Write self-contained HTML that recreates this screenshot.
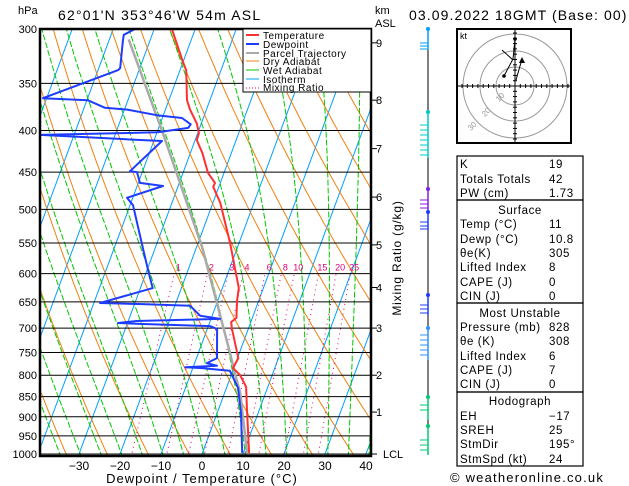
<!DOCTYPE html>
<html><head><meta charset="utf-8"><style>
body{margin:0;background:#fff}
svg{display:block}
text{font-family:"Liberation Sans",sans-serif;fill:#000}
</style></head><body>
<svg id="chart" width="629" height="486" viewBox="0 0 629 486" xmlns="http://www.w3.org/2000/svg">
<defs><clipPath id="pc"><rect x="40" y="29" width="331" height="427"/></clipPath></defs>
<rect x="0" y="0" width="629" height="486" fill="#fff"/>
<g id="grid" clip-path="url(#pc)"></g>
<g id="series" clip-path="url(#pc)"></g>
<g id="axes"></g>
<text x="18" y="14" font-size="11">hPa</text>
<text x="58" y="20" font-size="14" letter-spacing="1.2">62°01'N  353°46'W  54m  ASL</text>
<text x="375" y="14" font-size="11">km</text>
<text x="375" y="27" font-size="11">ASL</text>
<text x="409" y="20" font-size="14" letter-spacing="1.1">03.09.2022  18GMT  (Base: 00)</text>
<text x="202" y="483" font-size="13" letter-spacing="1" text-anchor="middle">Dewpoint  /  Temperature  (°C)</text>
<text transform="translate(401,258) rotate(-90)" font-size="12" letter-spacing="0.8" text-anchor="middle">Mixing  Ratio  (g/kg)</text>
<g>
<rect x="243" y="29" width="128" height="63" fill="#fff" stroke="#000" stroke-width="1"/>
<line x1="246" y1="35" x2="259" y2="35" stroke="#ff3030" stroke-width="2"/>
<text x="263" y="39" font-size="10" letter-spacing="0.5">Temperature</text>
<line x1="246" y1="44" x2="259" y2="44" stroke="#1e3cff" stroke-width="2"/>
<text x="263" y="48" font-size="10" letter-spacing="0.5">Dewpoint</text>
<line x1="246" y1="53" x2="259" y2="53" stroke="#aaa" stroke-width="2"/>
<text x="263" y="57" font-size="10" letter-spacing="0.5">Parcel  Trajectory</text>
<line x1="246" y1="61" x2="259" y2="61" stroke="#f08010" stroke-width="1"/>
<text x="263" y="65" font-size="10" letter-spacing="0.5">Dry  Adiabat</text>
<line x1="246" y1="70" x2="259" y2="70" stroke="#00c800" stroke-width="1"/>
<text x="263" y="74" font-size="10" letter-spacing="0.5">Wet  Adiabat</text>
<line x1="246" y1="79" x2="259" y2="79" stroke="#00a0ff" stroke-width="1"/>
<text x="263" y="83" font-size="10" letter-spacing="0.5">Isotherm</text>
<line x1="246" y1="88" x2="259" y2="88" stroke="#e0007a" stroke-width="1" stroke-dasharray="1,2"/>
<text x="263" y="91" font-size="10" letter-spacing="0.5">Mixing  Ratio</text>
</g>
<g id="winds"></g>
<g id="hodo"></g>
<g id="table"></g>
<text x="450" y="482" font-size="13" letter-spacing="1.2">© weatheronline.co.uk</text>
</svg>
<script>
// ---- data ----
const pressureLevels = [300,350,400,450,500,550,600,650,700,750,800,850,900,950,1000];
const tempTicks = [-30,-20,-10,0,10,20,30,40];
const kmLabels = ["9","8","7","6","5","4","3","2","1","LCL"];
const kmPressures = [312,367,421,483,553,624,700,800,888,1000];
const mixRatios = [1,2,3,4,6,8,10,15,20,25];
const tempP = [300,329.5,337,367,377,392,403,411,426,451,464,469,491,550,625,647,680,688,700,762,784,800,827,883,997];
const tempT = [-45.7,-40.0,-38.5,-35.6,-34.0,-31.1,-29.7,-29.6,-27.1,-23.9,-21.3,-21.4,-18.2,-12.2,-6.0,-5.3,-3.9,-4.8,-4.1,0.2,-0.2,2.2,4.7,7.0,11.4];
const dewP = [300,305,310,335,337,365,367,375,377,383,386,393,397,402,405,407,410,412,449,450,464,468,484,494,558,599,625,652,654,657,676,682,686,690,692,696,702,762,773,779,782,784,790,829,890,997];
const dewT = [-54.7,-56.9,-56.6,-54.8,-55.1,-70.9,-59.8,-54.9,-49.3,-41.6,-35.2,-32.5,-32.8,-39.8,-68.3,-59.0,-46.8,-38.0,-43.1,-41.3,-39.6,-33.7,-41.4,-39.3,-33.0,-29.3,-27.0,-38.5,-28.0,-16.3,-12.9,-7.8,-27.9,-32.3,-26.1,-9.6,-7.6,-5.0,-7.0,-4.3,-11.9,-7.8,-0.7,2.8,5.8,9.7];
const parcelP = [309,403,556,659,751,795,841,997];
const parcelT = [-55.3,-38.5,-18.7,-9.4,-2.3,0.7,3.8,10.9];
const tableRows = [["K","19"],["Totals  Totals","42"],["PW  (cm)","1.73"],["Surface",""],["Temp  (°C)","11"],["Dewp  (°C)","10.8"],["θe(K)","305"],["Lifted  Index","8"],["CAPE  (J)","0"],["CIN  (J)","0"],["Most  Unstable",""],["Pressure  (mb)","828"],["θe  (K)","308"],["Lifted  Index","6"],["CAPE  (J)","7"],["CIN  (J)","0"],["Hodograph",""],["EH","−17"],["SREH","25"],["StmDir","195°"],["StmSpd  (kt)","24"]];

// ---- axes functions ----
const NS="http://www.w3.org/2000/svg";
function yP(p){return 454-353*Math.log(1000/p);}
function xT(T,p){return 202+4.1*T+0.37*(454-yP(p));}
function mk(tag,attrs,parent){const e=document.createElementNS(NS,tag);for(const k in attrs)e.setAttribute(k,attrs[k]);parent.appendChild(e);return e;}
const grid=document.getElementById('grid'),series=document.getElementById('series'),axes=document.getElementById('axes');
function pathFrom(ps,fn){let d="";ps.forEach((p,i)=>{const [x,y]=fn(p);d+=(i?"L":"M")+x.toFixed(1)+","+y.toFixed(1);});return d;}
const pRange=[];for(let p=1010;p>=295;p-=5)pRange.push(p);

for(let T=-120;T<=40;T+=10){
  const e=mk('line',{x1:xT(T,1010),y1:yP(1010),x2:xT(T,295),y2:yP(295),stroke:'#00a0ff','stroke-width':1},grid);
  
  
}
for(let th=220;th<=500;th+=10){
  const e=mk('path',{d:pathFrom(pRange,p=>[xT(th*Math.pow(p/1000,0.2857)-273.15,p),yP(p)]),fill:'none',stroke:'#f08010','stroke-width':1},grid);
  
  
}
function moist(T0){const pts=[];let T=T0+273.15;for(let p=1010;p>=295;p-=5){pts.push([xT(T-273.15,p),yP(p)]);
 const es=6.112*Math.exp(17.67*(T-273.15)/(T-29.65));const rs=0.622*es/(p-es);
 const dTdp=(287*T+2.5e6*rs)/(1004+2.5e6*2.5e6*rs*0.622/(287*T*T))/p;T-=dTdp*5;}return pts;}
for(let T0=-44;T0<=41;T0+=5){
  const pts=moist(T0);let d="";pts.forEach((q,i)=>{d+=(i?"L":"M")+q[0].toFixed(1)+","+q[1].toFixed(1);});
  const e=mk('path',{d:d,fill:'none',stroke:'#00c800','stroke-width':1,'stroke-dasharray':'6,2'},grid);
  
  
}
function tdOfW(w,p){const e=w*p/(622+w);const l=Math.log(e/6.112);return 243.5*l/(17.67-l);}
mixRatios.forEach(w=>{
  const e=mk('line',{x1:xT(tdOfW(w,1010),1010),y1:yP(1010),x2:xT(tdOfW(w,600),600),y2:yP(600),stroke:'#e0007a','stroke-width':1,'stroke-dasharray':'1,4'},grid);
  
  
  const t=mk('text',{x:xT(tdOfW(w,600),600)+4,y:yP(600)-3,'font-size':9,'text-anchor':'middle',style:'fill:#e0007a'},axes);
  t.textContent=String(w);
  
  
});
pressureLevels.forEach(p=>{
  const e=mk('line',{x1:40,y1:yP(p),x2:371,y2:yP(p),stroke:'#000','stroke-width':1},grid);
  
  
  const t=mk('text',{x:37,y:yP(p)+4,'font-size':11,'text-anchor':'end'},axes);
  t.textContent=String(p);
  
  
});
function profile(P,T,color,w,name){
  const e=mk('path',{d:pathFrom(P.map((p,i)=>i),i=>[xT(T[i],P[i]),yP(P[i])]),fill:'none',stroke:color,'stroke-width':w,'stroke-linejoin':'round'},series);
  
  
}
profile(parcelP,parcelT,'#aaaaaa',2.5,'parcel-trajectory-line');
profile(dewP,dewT,'#1e3cff',2,'dewpoint-line');
profile(tempP,tempT,'#ff3030',2,'temperature-line');
const fr=mk('path',{d:'M40,29L40,456L371,456L371,29Z',fill:'none',stroke:'#000','stroke-width':2.5},axes);


tempTicks.forEach(T=>{
  const t=mk('text',{x:202+4.1*T,y:470,'font-size':12,'text-anchor':'middle'},axes);
  t.textContent=T<0?"−"+(-T):String(T);
  
  
});
kmLabels.forEach((k,i)=>{
  const y=Math.min(yP(kmPressures[i]),456);
  const l=mk('line',{x1:371,y1:y,x2:377,y2:y,stroke:'#000','stroke-width':1},axes);
  
  
  const t=mk('text',{x:k==="LCL"?383:376,y:y+4,'font-size':11},axes);
  t.textContent=k;
  
  
});
const winds=document.getElementById('winds');
const wl=mk('line',{x1:428,y1:29,x2:428,y2:455,stroke:'#000','stroke-width':1},winds);


const barbGroups=[[29,50,'#00a0ff',[43,46,49]],[112,158,'#00c8c8',[125,130,135,140,145,150,155]],[189,212,'#8020e0',[200,204,208]],[212,230,'#1e3cff',[222,226,229]],[295,315,'#1e3cff',[305,309,313]],[328,360,'#3090ff',[335,340,345,350,355]],[397,420,'#00c870',[405,410]],[426,455,'#00c870',[440,445,450]]];
barbGroups.forEach(g=>{
  const s=mk('line',{x1:428,y1:g[0],x2:428,y2:g[1],stroke:g[2],'stroke-width':1.5},winds);
  
  
  const c=mk('circle',{cx:428,cy:g[0],r:2,fill:g[2]},winds);
  
  
  g[3].forEach(y=>{
    const b=mk('line',{x1:420,y1:y,x2:428,y2:y,stroke:g[2],'stroke-width':1},winds);
    
    
  });
});
const hodo=document.getElementById('hodo');
const hb=mk('rect',{x:457,y:29,width:114,height:114,fill:'#fff',stroke:'#000','stroke-width':2},hodo);


[19,35,52].forEach(r=>{
  const c=mk('circle',{cx:515,cy:86,r:r,fill:'none',stroke:'#999','stroke-width':1},hodo);
  
  
});
const ax1=mk('line',{x1:458,y1:86,x2:570,y2:86,stroke:'#000'},hodo);
const ax2=mk('line',{x1:515,y1:30,x2:515,y2:142,stroke:'#000'},hodo);
for(let k=-10;k<=10;k++){if(!k)continue;
  const t1=mk('line',{x1:515+k*5.3,y1:84,x2:515+k*5.3,y2:88,stroke:'#000'},hodo);
  const t2=mk('line',{x1:513,y1:86+k*5.3,x2:517,y2:86+k*5.3,stroke:'#000'},hodo);}
const ht=mk('text',{x:460,y:39,'font-size':9},hodo);ht.textContent="kt";
const hl=mk('path',{d:'M515,39L513,59L504,76M502,50L513,60M516,80L522,59',fill:'none',stroke:'#000','stroke-width':1},hodo);

[[515,39],[504,76]].forEach(q=>{const c=mk('circle',{cx:q[0],cy:q[1],r:1.8,fill:'#000'},hodo);});
const ar=mk('path',{d:'M522,57L519,63L525,63Z',fill:'#000'},hodo);
[["10",502,99],["20",488,114],["30",474,128]].forEach(q=>{const t=mk('text',{transform:'translate('+q[1]+','+q[2]+') rotate(-45)','font-size':8,'text-anchor':'middle',style:'fill:#999'},hodo);t.textContent=q[0];});
const table=document.getElementById('table');
[[156,200],[200,303],[303,392],[392,466]].forEach(b=>{
  const r=mk('rect',{x:457,y:b[0],width:126,height:b[1]-b[0],fill:'none',stroke:'#000','stroke-width':1.2},table);
  
  
});
const rowY=[164,179,193,210,224,239,253,267,282,296,313,327,341,356,370,384,401,416,430,444,459];
tableRows.forEach((r,i)=>{
  const head=r[1]==="";
  const t=mk('text',{x:head?520:460,y:rowY[i]+4,'font-size':11.5,'letter-spacing':0.6,'text-anchor':head?'middle':'start'},table);
  t.textContent=r[0];
  
  
  if(!head){const v=mk('text',{x:549,y:rowY[i]+4,'font-size':11.5,'letter-spacing':0.6},table);
  v.textContent=r[1];
  
  }
});
</script>
</body></html>
